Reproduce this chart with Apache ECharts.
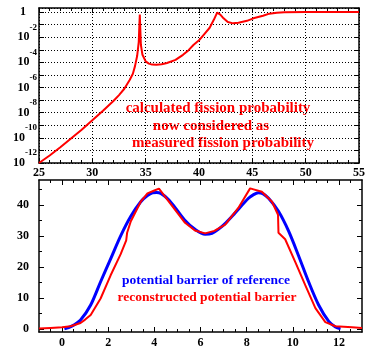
<!DOCTYPE html>
<html>
<head>
<meta charset="utf-8">
<script src="https://cdn.jsdelivr.net/npm/echarts@6/dist/echarts.min.js"></script>
<style>
html,body{margin:0;padding:0;background:#fff;}
#chart{width:368px;height:349px;}
</style>
</head>
<body>
<div id="chart"></div>
<script>
// ---- Top panel: log10 of fission probability vs x (25..55)
var topX = [25.0, 26.0, 27.0, 28.0, 29.0, 30.0, 31.0, 32.0, 32.5, 33.0, 33.5, 33.8, 34.0, 34.2, 34.35, 34.45, 34.55, 34.7, 35.0, 35.3, 35.6, 36.0, 36.5, 37.0, 37.8, 38.5, 39.0, 39.5, 40.0, 40.5, 41.0, 41.4, 41.7, 41.8, 42.0, 42.3, 42.7, 43.2, 43.7, 44.5, 45.1, 46.0, 46.6, 47.3, 48.0, 50.0, 55.0];
var topLogP = [-12.0, -11.4, -10.75, -10.05, -9.35, -8.6, -7.85, -7.05, -6.6, -6.1, -5.4, -4.9, -4.3, -3.5, -2.4, -0.2, -2.6, -3.4, -3.92, -4.1, -4.18, -4.2, -4.15, -4.05, -3.8, -3.4, -3.05, -2.6, -2.25, -1.75, -1.25, -0.6, -0.05, 0.0, -0.2, -0.5, -0.8, -0.9, -0.85, -0.7, -0.5, -0.3, -0.13, -0.05, -0.02, 0.0, 0.0];
var topXTicks = [25, 30, 35, 40, 45, 50, 55];

// ---- Bottom panel: potential barriers
var blueX = [0.1, 0.4, 0.8, 1.24, 1.67, 2.1, 2.54, 2.98, 3.41, 3.7, 3.92, 4.1, 4.28, 4.6, 4.86, 5.3, 5.76, 6.2, 6.5, 6.77, 7.1, 7.5, 8.08, 8.3, 8.51, 8.7, 8.95, 9.38, 9.82, 10.25, 10.69, 11.12, 11.56, 11.85, 12.07];
var blueV = [0, 0.8, 2.9, 7.7, 15.2, 22.5, 30, 36.3, 41, 43, 43.9, 44.0, 43.7, 41.8, 39.5, 35.2, 32.1, 30.5, 30.8, 32.1, 34.2, 37.4, 42.1, 43.3, 43.9, 43.6, 42.1, 37.9, 31.5, 23.6, 15.1, 7.7, 2.4, 0.6, 0];
var redX = [-1, -0.5, 0, 0.37, 0.8, 1.0, 1.24, 1.67, 2.1, 2.54, 2.78, 2.82, 2.88, 2.98, 3.41, 3.7, 4.0, 4.2, 4.57, 5.0, 5.33, 5.76, 6.2, 6.6, 7.07, 7.64, 8.15, 8.66, 9.1, 9.36, 9.38, 9.67, 10.11, 10.54, 10.98, 11.41, 11.85, 12.57, 13];
var redV = [0.1, 0.3, 0.5, 0.85, 1.9, 3.0, 4.5, 9.8, 17.2, 24.1, 28.5, 31.0, 31.6, 34.7, 41, 43.7, 44.6, 45.2, 41.6, 37.4, 34.2, 31.7, 30.8, 31.6, 33.6, 39, 45.3, 44.2, 41.0, 36.8, 31.0, 28.9, 21.5, 14.1, 6.7, 2.2, 0.85, 0.5, 0.3];
var botXMajor = [0, 2, 4, 6, 8, 10, 12];
var botXMinor = [-0.5, 0.5, 1, 1.5, 2.5, 3, 3.5, 4.5, 5, 5.5, 6.5, 7, 7.5, 8.5, 9, 9.5, 10.5, 11, 11.5, 12.5];
var botYMajor = [0, 10, 20, 30, 40];
var botYMinor = [5, 15, 25, 35, 45];

var topNote = ['calculated fission probability', 'now considered as', 'measured fission probability'];
var botNote = ['potential barrier of reference', 'reconstructed potential barrier'];

function zip(a, b) { return a.map(function (v, i) { return [v, b[i]]; }); }

var FF = '"Liberation Serif", "DejaVu Serif", serif';
var lblStyle = { fontFamily: FF, fontWeight: 'bold', fontSize: 12, color: '#000' };
var frameLine = { show: true, onZero: false, lineStyle: { color: '#000', width: 1.5 } };
var noLine = { show: false, onZero: false };

function ax(extra) {
  var base = { animation: false, axisLine: frameLine, splitLine: { show: false }, axisLabel: { show: false } };
  for (var k in extra) base[k] = extra[k];
  return base;
}

var chart = echarts.init(document.getElementById('chart'), null, { renderer: 'canvas' });
var option = {
  animation: false,
  backgroundColor: '#fff',
  grid: [
    { left: 39, top: 8, width: 323, height: 155 },
    { left: 39, top: 180, width: 323, height: 153 }
  ],
  xAxis: [
    ax({ type: 'value', gridIndex: 0, position: 'bottom', min: 25, max: 55, interval: 5,
      axisTick: { inside: true, length: 5, lineStyle: { color: '#000' } },
      minorTick: { show: true, splitNumber: 5, length: 3, lineStyle: { color: '#000' } },
      splitLine: { show: true, lineStyle: { color: '#000', type: [1, 2], width: 1 } },
      axisLabel: Object.assign({ show: true, margin: 4, customValues: topXTicks }, lblStyle) }),
    ax({ type: 'value', gridIndex: 0, position: 'top', min: 25, max: 55, interval: 5,
      axisTick: { inside: true, length: 5, lineStyle: { color: '#000' } },
      minorTick: { show: true, splitNumber: 5, length: 3, lineStyle: { color: '#000' } } }),
    ax({ type: 'value', gridIndex: 1, position: 'bottom', min: -1, max: 13,
      axisTick: { inside: true, length: 5, customValues: botXMajor, lineStyle: { color: '#000' } },
      axisLabel: Object.assign({ show: true, margin: 5, customValues: botXMajor }, lblStyle) }),
    ax({ type: 'value', gridIndex: 1, position: 'bottom', min: -1, max: 13, axisLine: noLine,
      axisTick: { inside: true, length: 3, customValues: botXMinor, lineStyle: { color: '#000' } } }),
    ax({ type: 'value', gridIndex: 1, position: 'top', min: -1, max: 13,
      axisTick: { inside: true, length: 5, customValues: botXMajor, lineStyle: { color: '#000' } } }),
    ax({ type: 'value', gridIndex: 1, position: 'top', min: -1, max: 13, axisLine: noLine,
      axisTick: { inside: true, length: 3, customValues: botXMinor, lineStyle: { color: '#000' } } })
  ],
  yAxis: [
    ax({ type: 'value', gridIndex: 0, position: 'left', min: -12, max: 0.32, interval: 1,
      axisTick: { inside: true, length: 5, lineStyle: { color: '#000' } },
      splitLine: { show: true, lineStyle: { color: '#000', type: [1, 2], width: 1 } },
      axisLabel: { show: true, margin: 2, showMaxLabel: false,
        formatter: function (v) {
          var r = Math.round(v);
          if (Math.abs(v - r) > 1e-6) return '';
          if (r === 0) return '{b|1}{s|}';
          if (r % 2 !== 0) return '';
          return '{b|10}{e|' + r + '}';
        },
        rich: {
          b: { fontFamily: FF, fontWeight: 'bold', fontSize: 12, color: '#000', verticalAlign: 'middle' },
          e: { fontFamily: FF, fontWeight: 'bold', fontSize: 9, color: '#000', verticalAlign: 'top', padding: [0, 0, 20, 0] },
          s: { width: 11 }
        } } }),
    ax({ type: 'value', gridIndex: 0, position: 'right', min: -12, max: 0.32, interval: 1,
      axisTick: { inside: true, length: 5, lineStyle: { color: '#000' } } }),
    ax({ type: 'value', gridIndex: 1, position: 'left', min: -1, max: 48,
      axisTick: { inside: true, length: 5, customValues: botYMajor, lineStyle: { color: '#000' } },
      axisLabel: Object.assign({ show: true, margin: 10, customValues: botYMajor }, lblStyle) }),
    ax({ type: 'value', gridIndex: 1, position: 'left', min: -1, max: 48, axisLine: noLine,
      axisTick: { inside: true, length: 3, customValues: botYMinor, lineStyle: { color: '#000' } } }),
    ax({ type: 'value', gridIndex: 1, position: 'right', min: -1, max: 48,
      axisTick: { inside: true, length: 5, customValues: botYMajor, lineStyle: { color: '#000' } } }),
    ax({ type: 'value', gridIndex: 1, position: 'right', min: -1, max: 48, axisLine: noLine,
      axisTick: { inside: true, length: 3, customValues: botYMinor, lineStyle: { color: '#000' } } })
  ],
  series: [
    { type: 'line', xAxisIndex: 0, yAxisIndex: 0, data: zip(topX, topLogP), showSymbol: false, symbol: 'none',
      lineStyle: { color: '#ff0000', width: 2 }, z: 5 },
    { type: 'line', xAxisIndex: 2, yAxisIndex: 2, data: zip(blueX, blueV), showSymbol: false, symbol: 'none', smooth: 0.3,
      lineStyle: { color: '#0000ff', width: 3 }, z: 4 },
    { type: 'line', xAxisIndex: 2, yAxisIndex: 2, data: zip(redX, redV), showSymbol: false, symbol: 'none',
      lineStyle: { color: '#ff0000', width: 2 }, z: 5 }
  ],
  graphic: [
    { type: 'text', x: 218, y: 108, style: { text: topNote[0], font: 'bold 15px ' + FF, fill: '#ff0000', align: 'center', verticalAlign: 'middle' } },
    { type: 'text', x: 211, y: 126, style: { text: topNote[1], font: 'bold 15px ' + FF, fill: '#ff0000', align: 'center', verticalAlign: 'middle' } },
    { type: 'text', x: 223, y: 143, style: { text: topNote[2], font: 'bold 15px ' + FF, fill: '#ff0000', align: 'center', verticalAlign: 'middle' } },
    { type: 'text', x: 206, y: 281, style: { text: botNote[0], font: 'bold 13.5px ' + FF, fill: '#0000ff', align: 'center', verticalAlign: 'middle' } },
    { type: 'text', x: 207, y: 298, style: { text: botNote[1], font: 'bold 13.5px ' + FF, fill: '#ff0000', align: 'center', verticalAlign: 'middle' } }
  ]
};
chart.setOption(option);
</script>
</body>
</html>
